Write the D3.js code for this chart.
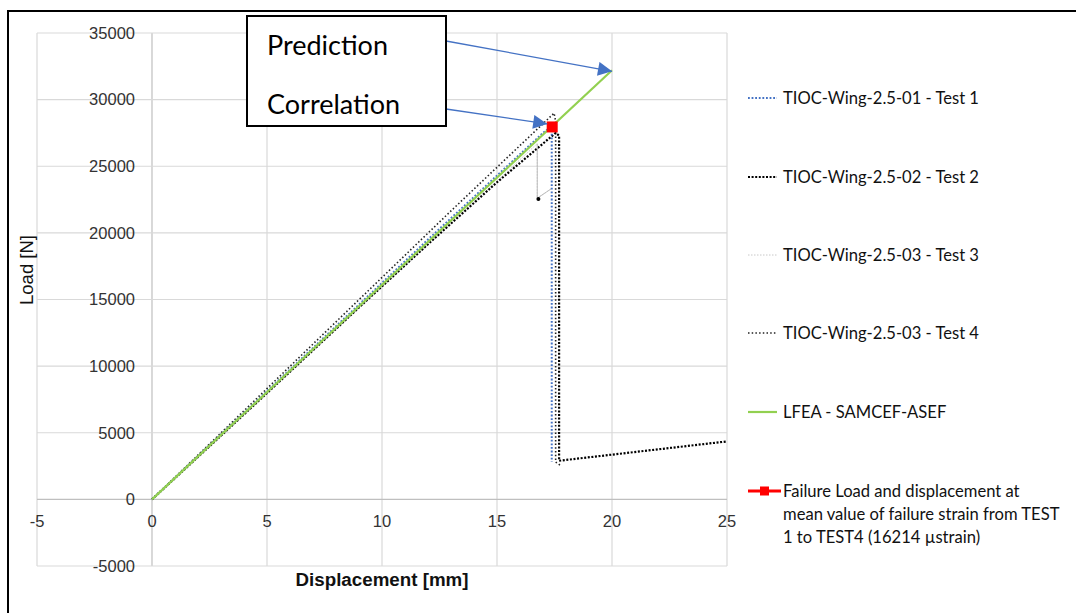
<!DOCTYPE html>
<html><head><meta charset="utf-8">
<script src="https://cdn.jsdelivr.net/npm/d3@7"></script>
<style>body{margin:0;background:#fff}svg{display:block}</style>
</head><body>
<svg id="c" width="1076" height="613"></svg>
<script>
// ---- data ----
const xTicks = [-5, 0, 5, 10, 15, 20, 25];
const yTicks = [-5000, 0, 5000, 10000, 15000, 20000, 25000, 30000, 35000];

const test1X = [0, 2, 5, 8.83, 12, 15, 17.0, 17.38, 17.38];
const test1Y = [0, 3250, 8120, 14340, 19500, 24300, 27500, 28000, 2800];

const test2X = [0, 3, 6, 8.96, 12, 15, 17.0, 17.55, 17.7, 17.7, 25];
const test2Y = [0, 4780, 9580, 14340, 19150, 23800, 26700, 27500, 27300, 2900, 4350];

const test3X = [0, 4, 8.9, 13, 16.75, 16.75, 17.35];
const test3Y = [0, 6380, 14200, 20700, 26700, 22600, 23300];
const test3MarkX = [16.8];
const test3MarkY = [22550];

const test4X = [0, 4, 8.61, 13, 17.48, 17.55, 17.55, 17.8];
const test4Y = [0, 6650, 14340, 21650, 28980, 28400, 2800, 2500];

const lfeaX = [0, 20];
const lfeaY = [0, 32200];

const failX = [17.4];
const failY = [27950];

const legendLabels = [
  "TIOC-Wing-2.5-01 - Test 1",
  "TIOC-Wing-2.5-02 - Test 2",
  "TIOC-Wing-2.5-03 - Test 3",
  "TIOC-Wing-2.5-03 - Test 4",
  "LFEA - SAMCEF-ASEF",
  ["Failure Load and displacement at", "mean value of failure strain from TEST", "1 to TEST4 (16214 \u00b5strain)"]
];
const annotLabels = ["Prediction", "Correlation"];

// ---- drawing ----
const svg = d3.select("#c");
const x = d3.scaleLinear().domain([-5, 25]).range([37, 727]);
const y = d3.scaleLinear().domain([-5000, 35000]).range([566, 33]);

function fit(sel, target, base) {
  sel.style("font-size", base + "px");
  const w = sel.node().getComputedTextLength();
  sel.style("font-size", (base * target / w).toFixed(2) + "px");
}

// outer frame
svg.append("rect").attr("x", 8).attr("y", 11).attr("width", 1200).attr("height", 800)
  .attr("fill", "none").attr("stroke", "#000").attr("stroke-width", 2);

// gridlines
const g = svg.append("g");
g.selectAll("line.vx").data(xTicks).join("line")
  .attr("x1", d => x(d)).attr("x2", d => x(d))
  .attr("y1", y(-5000)).attr("y2", y(35000))
  .attr("stroke", d => d === 0 ? "#bfbfbf" : "#d9d9d9").attr("stroke-width", 1.2);
g.selectAll("line.hy").data(yTicks).join("line")
  .attr("y1", d => y(d)).attr("y2", d => y(d))
  .attr("x1", x(-5)).attr("x2", x(25))
  .attr("stroke", d => d === 0 ? "#bfbfbf" : "#d9d9d9").attr("stroke-width", 1.2);

// tick labels
svg.append("g").selectAll("text").data(yTicks).join("text")
  .attr("x", x(0) - 17).attr("y", d => y(d)).attr("dy", "0.35em")
  .attr("text-anchor", "end").attr("fill", "#333")
  .style("font-family", "Liberation Sans, Arial, sans-serif").style("font-size", "16.5px")
  .text(d => d);
svg.append("g").selectAll("text").data(xTicks).join("text")
  .attr("x", d => x(d)).attr("y", y(0) + 22).attr("dy", "0.35em")
  .attr("text-anchor", "middle").attr("fill", "#333")
  .style("font-family", "Liberation Sans, Arial, sans-serif").style("font-size", "16.5px")
  .text(d => d);

// axis titles
const xt = svg.append("text").attr("x", 382).attr("y", 586).attr("text-anchor", "middle")
  .style("font-family", "Liberation Sans, Arial, sans-serif").style("font-weight", "bold")
  .attr("fill", "#111").text("Displacement  [mm]");
fit(xt, 173, 18);
svg.append("text").attr("transform", "translate(33,270) rotate(-90)").attr("text-anchor", "middle")
  .style("font-family", "Liberation Sans, Arial, sans-serif").style("font-size", "18.5px")
  .attr("fill", "#111").text("Load [N]");

// series
const line = d3.line().x(d => x(d[0])).y(d => y(d[1]));
const zip = (a, b) => a.map((v, i) => [v, b[i]]);
const series = [
  {pts: zip(test3X, test3Y), stroke: "#c8c8c8", w: 1, dash: "1.5,1.5"},
  {pts: zip(test4X, test4Y), stroke: "#222", w: 1.6, dash: "1.5,2.2"},
  {pts: zip(test2X, test2Y), stroke: "#000", w: 2.2, dash: "2,1.6"},
  {pts: zip(test1X, test1Y), stroke: "#4472C4", w: 2, dash: "1.8,1.8"},
  {pts: zip(lfeaX, lfeaY), stroke: "#92D050", w: 2.2, dash: null}
];
svg.append("g").selectAll("path").data(series).join("path")
  .attr("d", d => line(d.pts)).attr("fill", "none")
  .attr("stroke", d => d.stroke).attr("stroke-width", d => d.w)
  .attr("stroke-dasharray", d => d.dash);
// thin grey unload piece of test 3 (solid)
svg.append("path").attr("d", line(zip(test3X, test3Y).slice(4)))
  .attr("fill", "none").attr("stroke", "#bdbdbd").attr("stroke-width", 1);
svg.selectAll("circle.m3").data(zip(test3MarkX, test3MarkY)).join("circle")
  .attr("cx", d => x(d[0])).attr("cy", d => y(d[1])).attr("r", 2).attr("fill", "#000");

// failure marker
svg.selectAll("rect.fail").data(zip(failX, failY)).join("rect")
  .attr("x", d => x(d[0]) - 5.5).attr("y", d => y(d[1]) - 5.5)
  .attr("width", 11).attr("height", 11).attr("fill", "#FF0000");

// annotation box and arrows
svg.append("defs").append("marker").attr("id", "ah").attr("viewBox", "0 0 10 10")
  .attr("refX", 10).attr("refY", 5).attr("markerWidth", 16).attr("markerHeight", 14)
  .attr("markerUnits", "userSpaceOnUse").attr("orient", "auto")
  .append("path").attr("d", "M0,0 L10,5 L0,10 Z").attr("fill", "#4472C4");
const boxX = 247, boxY = 16, boxW = 199, boxH = 110;
const arrows = [
  {x1: boxX + boxW, y1: 41, x2: x(lfeaX[1]), y2: y(lfeaY[1]) + 1},
  {x1: boxX + boxW, y1: 109, x2: x(failX[0]) - 5, y2: y(failY[0]) - 3}
];
svg.append("g").selectAll("line").data(arrows).join("line")
  .attr("x1", d => d.x1).attr("y1", d => d.y1).attr("x2", d => d.x2).attr("y2", d => d.y2)
  .attr("stroke", "#4472C4").attr("stroke-width", 1.3).attr("marker-end", "url(#ah)");
svg.append("rect").attr("x", boxX).attr("y", boxY).attr("width", boxW).attr("height", boxH)
  .attr("fill", "#fff").attr("stroke", "#000").attr("stroke-width", 2);
const at = svg.append("g").selectAll("text").data(annotLabels).join("text")
  .attr("x", 267).attr("y", (d, i) => 55 + i * 59)
  .style("font-family", "Lato, Open Sans, sans-serif").attr("fill", "#000").text(d => d);
fit(d3.select(at.nodes()[0]), 121, 24);
at.style("font-size", d3.select(at.nodes()[0]).style("font-size"));

// legend
const lg = svg.append("g");
const rowsY = [98, 177, 255, 333, 412, 491];
const legOrder = [series[3], series[2], series[0], series[1], series[4]];
legOrder.forEach((s, i) => {
  lg.append("line").attr("x1", 748).attr("x2", 777).attr("y1", rowsY[i]).attr("y2", rowsY[i])
    .attr("stroke", s.stroke).attr("stroke-width", s.w).attr("stroke-dasharray", s.dash);
});
lg.append("line").attr("x1", 748).attr("x2", 781).attr("y1", rowsY[5]).attr("y2", rowsY[5])
  .attr("stroke", "#FF0000").attr("stroke-width", 3);
lg.append("rect").attr("x", 760).attr("y", rowsY[5] - 4.5).attr("width", 9).attr("height", 9).attr("fill", "#FF0000");
const legTexts = [];
legendLabels.forEach((lab, i) => {
  const lines = Array.isArray(lab) ? lab : [lab];
  lines.forEach((t, j) => {
    legTexts.push(lg.append("text").attr("x", 783).attr("y", rowsY[i] + j * 23).attr("dy", "0.35em")
      .style("font-family", "Lato, Open Sans, sans-serif").attr("fill", "#111").text(t));
  });
});
fit(legTexts[0], 196, 16);
const lfs = legTexts[0].style("font-size");
legTexts.forEach(t => t.style("font-size", lfs));
</script>
</body></html>
